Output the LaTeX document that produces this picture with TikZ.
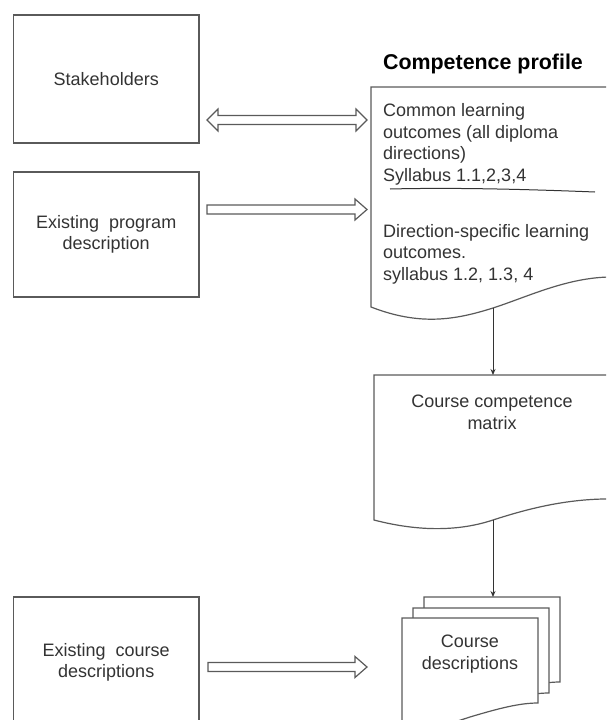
\documentclass[tikz,border=0pt]{standalone}
\usepackage{fontspec}
\setmainfont{Liberation Sans}
\usetikzlibrary{arrows.meta,calc}
\definecolor{linegray}{HTML}{5A5A5A}
\definecolor{textgray}{HTML}{333333}
\tikzset{
  box/.style={draw=linegray, line width=1.2pt, fill=white, inner sep=0pt,
    minimum width=185.5pt, font=\fontsize{18}{21.5}\selectfont,
    text=textgray, align=center},
  txt/.style={inner sep=0pt, font=\fontsize{18}{21.5}\selectfont, text=textgray},
  docline/.style={draw=linegray, line width=1.2pt, fill=white},
  barrow/.style={draw=linegray, line width=1.2pt, fill=white, line join=miter},
  thinarrow/.style={draw=black!80, line width=1pt, -{Stealth[length=6pt,width=5pt]}}
}
\begin{document}
\begin{tikzpicture}[x=1pt,y=-1pt]
\clip (0,0) rectangle (606,720);

% left boxes
\node[box, minimum height=128pt] (stake) at (106.25,79) {Stakeholders};
\node[box, minimum height=125pt] (prog) at (106.25,234.5) {Existing~ program\\description};
\node[box, minimum height=133pt] (excourse) at (106.25,663.5) {};
\node[txt, align=center] (excoursetxt) at (106.25,662.5) {Existing~ course\\descriptions};

% title
\node[inner sep=0pt, font=\bfseries\fontsize{21.4}{24}\selectfont] (title) at (483,64) {Competence profile};

% competence profile document
\draw[docline] (371,87) -- (616,87) -- (616,277)
  .. controls (570,276) and (530,296) .. (493,308)
  .. controls (455,320) and (420,326) .. (371,307) -- cycle;
\coordinate (profbot) at (493,308);
\node[txt, align=left, anchor=west] (common) at (383,144.5)
  {Common learning\\outcomes (all diploma\\directions)\\Syllabus 1.1,2,3,4};
\draw[draw=black!80, line width=1pt] (390,189) .. controls (450,187.5) and (520,189) .. (595,192);
\node[txt, align=left, anchor=west] (specific) at (383,254)
  {Direction-specific learning\\outcomes.\\syllabus 1.2, 1.3, 4};

% course competence matrix document
\draw[docline] (374,375) -- (616,375) -- (616,499)
  .. controls (570,498) and (530,508) .. (493,520)
  .. controls (460,531) and (420,532) .. (374,520) -- cycle;
\coordinate (mattop) at (493,375);
\coordinate (matbot) at (493,520);
\node[txt, align=center] (matrix) at (492,412.5) {Course competence\\matrix};

% stacked course description documents
\foreach \dx/\dy in {22/-21, 11/-10, 0/0} {
  \draw[docline, shift={(\dx,\dy)}] (402,618) -- (538,618) -- (538,703)
    .. controls (520,703) and (500,708) .. (470,717)
    .. controls (445,725) and (425,733) .. (402,729) -- cycle;
}
\coordinate (cdtop) at (493,597);
\node[txt, align=center] (coursedesc) at (470,654) {Course\\descriptions};

% thin arrows
\draw[thinarrow] (profbot) -- (mattop);
\draw[thinarrow] (matbot) -- (cdtop);

% block arrows
\coordinate (a1s) at (207,120);
\coordinate (a1e) at (367,120);
\draw[barrow] (a1s) -- ++(11,-11) -- ++(0,6.5) -- ++(138,0) -- ++(0,-6.5)
  -- (a1e) -- ++(-11,11) -- ++(0,-6.5) -- ++(-138,0) -- ++(0,6.5) -- cycle;

\coordinate (a2s) at (207,209.5);
\coordinate (a2e) at (367,209.5);
\draw[barrow] ($(a2s)+(0,-4.5)$) -- ++(148,0) -- ++(0,-6) -- (a2e)
  -- ++(-12,10.5) -- ++(0,-6) -- ++(-148,0) -- cycle;

\coordinate (a3s) at (208,667);
\coordinate (a3e) at (367,667);
\draw[barrow] ($(a3s)+(0,-4.5)$) -- ++(147,0) -- ++(0,-6) -- (a3e)
  -- ++(-12,10.5) -- ++(0,-6) -- ++(-147,0) -- cycle;
\end{tikzpicture}
\end{document}
